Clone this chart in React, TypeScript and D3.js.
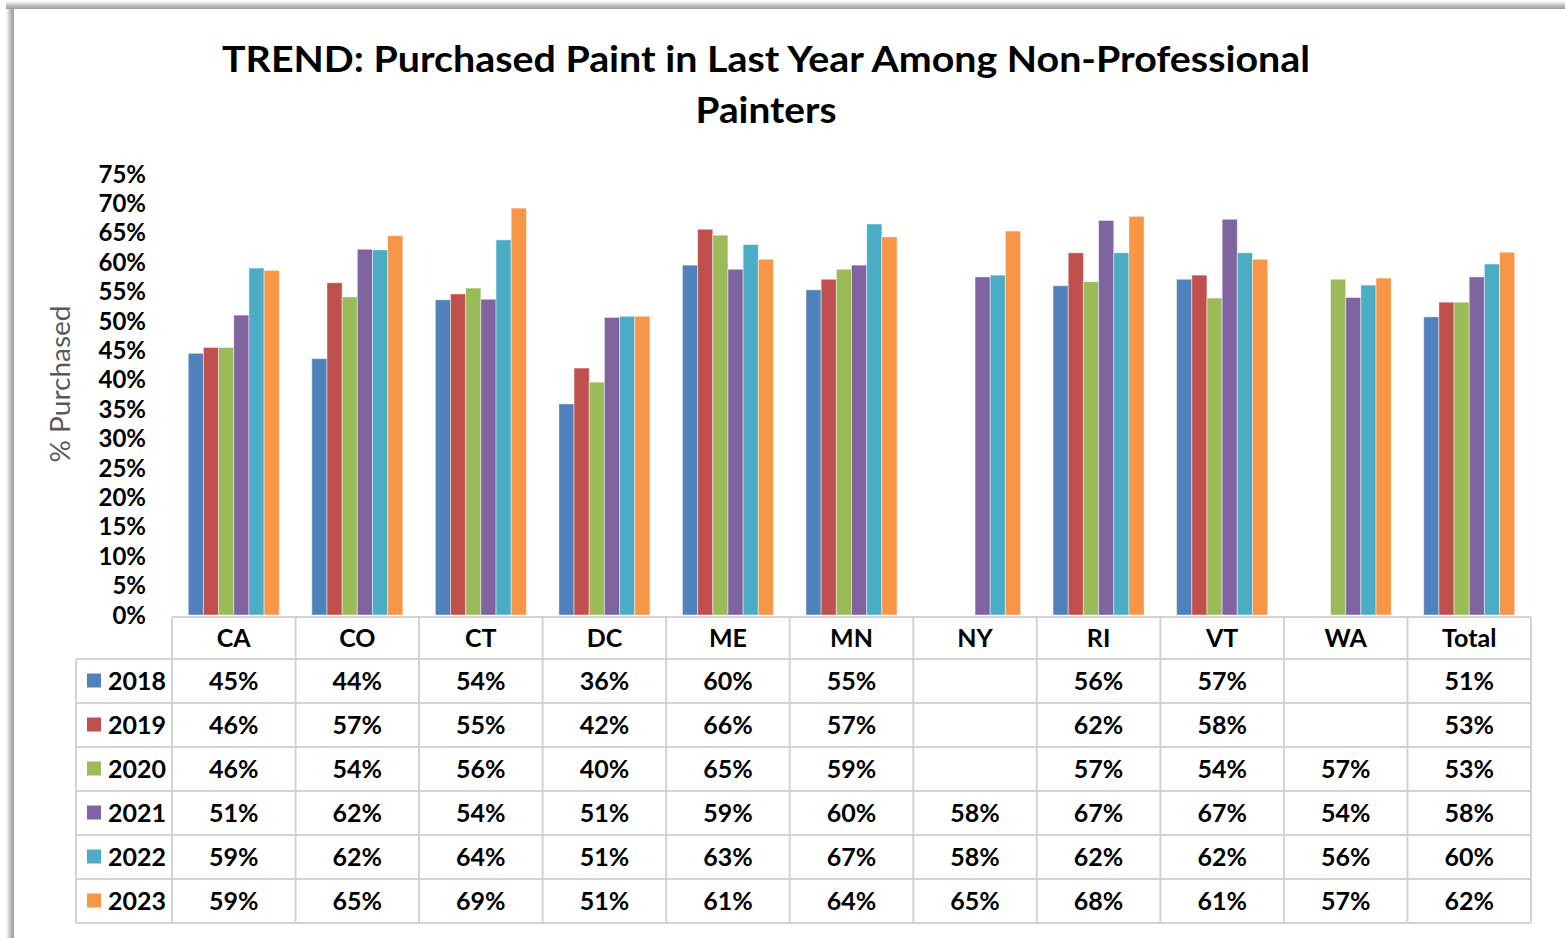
import React from 'react';
import * as d3 from 'd3';

const categories = ['CA', 'CO', 'CT', 'DC', 'ME', 'MN', 'NY', 'RI', 'VT', 'WA', 'Total'];
const years = ['2018', '2019', '2020', '2021', '2022', '2023'];

// % purchased (table shows the rounded value)
const v2018 = [44.5, 43.6, 53.6, 35.9, 59.5, 55.3, null, 56.0, 57.1, null, 50.7];
const v2019 = [45.5, 56.5, 54.6, 42.0, 65.6, 57.1, null, 61.6, 57.8, null, 53.2];
const v2020 = [45.5, 54.1, 55.6, 39.6, 64.6, 58.8, null, 56.7, 53.9, 57.1, 53.2];
const v2021 = [51.0, 62.2, 53.7, 50.6, 58.8, 59.5, 57.5, 67.1, 67.3, 54.0, 57.5];
const v2022 = [59.0, 62.1, 63.8, 50.8, 63.0, 66.5, 57.8, 61.6, 61.6, 56.1, 59.7];
const v2023 = [58.6, 64.5, 69.2, 50.8, 60.5, 64.3, 65.3, 67.8, 60.5, 57.3, 61.7];

const series: (number | null)[][] = [v2018, v2019, v2020, v2021, v2022, v2023];
const colors = ['#4F81BD', '#C0504D', '#9BBB59', '#8064A2', '#4BACC6', '#F79646'];
const yTicks = [0, 5, 10, 15, 20, 25, 30, 35, 40, 45, 50, 55, 60, 65, 70, 75];

const W = 1565;
const H = 938;
const FONT = 'Lato, "Open Sans", sans-serif';

const App: React.FC = () => {
  const plotLeft = 172;
  const plotRight = 1531;
  const y = d3.scaleLinear().domain([0, 75]).range([615, 174]);

  const x0 = d3.scaleBand<string>()
    .domain(categories)
    .range([plotLeft, plotRight])
    .paddingInner(0.263)
    .paddingOuter(0.1315);

  const x1 = d3.scaleBand<string>()
    .domain(years)
    .range([0, x0.bandwidth()]);

  const step = x0.step();
  const cellLeft = (i: number) => plotLeft + i * step;

  const tableTop = 617;
  const headerBottom = 659;
  const rowH = 44;
  const legendLeft = 76;
  const tableBottom = headerBottom + rowH * years.length;
  const gridColor = '#d2d2d2';

  return (
    <svg width={W} height={H} style={{ position: 'absolute', left: 0, top: 0, background: '#fff' }}>
      <defs>
        <linearGradient id="shadowL" x1="0" x2="1" y1="0" y2="0">
          <stop offset="0" stopColor="#fff" />
          <stop offset="0.5" stopColor="#c4c4c4" />
          <stop offset="1" stopColor="#9a9a9a" />
        </linearGradient>
        <linearGradient id="shadowT" x1="0" x2="0" y1="0" y2="1">
          <stop offset="0" stopColor="#fff" />
          <stop offset="0.5" stopColor="#c4c4c4" />
          <stop offset="1" stopColor="#9a9a9a" />
        </linearGradient>
      </defs>

      {/* frame shadow on the left and top */}
      <rect x={6} y={4} width={8} height={H - 4} fill="url(#shadowL)" />
      <rect x={6} y={1} width={W - 6} height={8} fill="url(#shadowT)" />
      <rect x={14} y={9} width={W - 14} height={H - 9} fill="#fff" />

      {/* title */}
      <text x={766} y={72} textAnchor="middle" fontFamily={FONT} fontWeight={700} fontSize={37}
        textLength={1088} lengthAdjust="spacingAndGlyphs" fill="#000">
        TREND: Purchased Paint in Last Year Among Non-Professional
      </text>
      <text x={766} y={123} textAnchor="middle" fontFamily={FONT} fontWeight={700} fontSize={37}
        textLength={141} lengthAdjust="spacingAndGlyphs" fill="#000">
        Painters
      </text>

      {/* y axis title */}
      <text transform="translate(70,384) rotate(-90)" textAnchor="middle" fontFamily={FONT}
        fontSize={26} fill="#595959" textLength={157} lengthAdjust="spacingAndGlyphs">
        % Purchased
      </text>

      {/* y tick labels */}
      {yTicks.map(t => (
        <text key={t} x={146} y={y(t)} dy="0.36em" textAnchor="end" fontFamily={FONT}
          fontWeight={700} fontSize={24} fill="#000">
          {t}%
        </text>
      ))}

      {/* bars */}
      {categories.map((c, ci) => (
        <g key={c} transform={`translate(${x0(c)},0)`}>
          {years.map((yr, si) => {
            const v = series[si][ci];
            if (v === null) return null;
            return (
              <rect key={yr} x={x1(yr)} y={y(v)} width={x1.bandwidth()} height={y(0) - y(v)}
                fill={colors[si]} stroke="#ffffff" strokeOpacity={0.45} strokeWidth={1} />
            );
          })}
        </g>
      ))}

      {/* data table grid */}
      <g stroke={gridColor} strokeWidth={2} fill="none">
        <line x1={plotLeft} x2={plotRight} y1={tableTop} y2={tableTop} />
        {d3.range(years.length + 1).map(r => (
          <line key={r} x1={legendLeft} x2={plotRight}
            y1={headerBottom + r * rowH} y2={headerBottom + r * rowH} />
        ))}
        <line x1={legendLeft} x2={legendLeft} y1={headerBottom} y2={tableBottom} />
        {d3.range(categories.length + 1).map(i => (
          <line key={i} x1={cellLeft(i)} x2={cellLeft(i)} y1={tableTop} y2={tableBottom} />
        ))}
      </g>

      {/* header row */}
      {categories.map((c, ci) => (
        <text key={c} x={cellLeft(ci) + step / 2} y={(tableTop + headerBottom) / 2} dy="0.36em"
          textAnchor="middle" fontFamily={FONT} fontWeight={700} fontSize={25} fill="#000">
          {c}
        </text>
      ))}

      {/* rows */}
      {years.map((yr, si) => {
        const cy = headerBottom + si * rowH + rowH / 2;
        return (
          <g key={yr}>
            <rect x={87} y={cy - 7.5} width={14} height={14} fill={colors[si]} />
            <text x={108} y={cy} dy="0.36em" fontFamily={FONT} fontWeight={700} fontSize={25} fill="#000">
              {yr}
            </text>
            {categories.map((c, ci) => {
              const v = series[si][ci];
              if (v === null) return null;
              return (
                <text key={c} x={cellLeft(ci) + step / 2} y={cy} dy="0.36em" textAnchor="middle"
                  fontFamily={FONT} fontWeight={700} fontSize={25} fill="#000">
                  {Math.round(v)}%
                </text>
              );
            })}
          </g>
        );
      })}
    </svg>
  );
};

export default App;
